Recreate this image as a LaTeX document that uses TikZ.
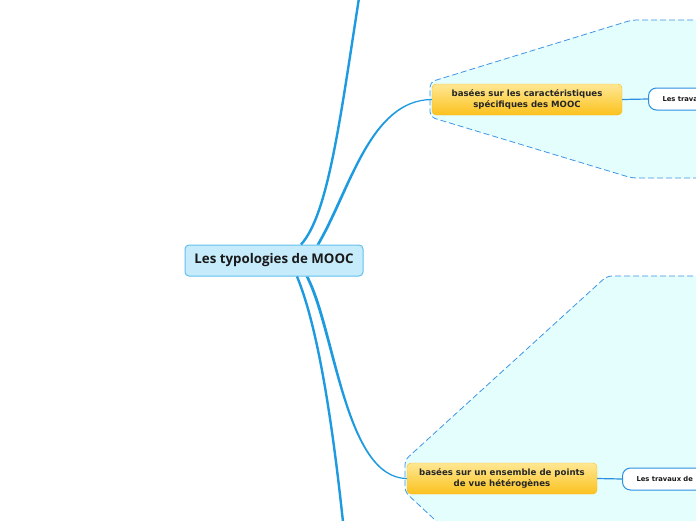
\documentclass[tikz,border=0pt]{standalone}
\usepackage{fontspec}
\setmainfont{DejaVu Sans}
\newfontfamily\centerfont{Open Sans}
\usetikzlibrary{calc}
\definecolor{branch}{HTML}{1E9BE0}
\definecolor{zonefill}{HTML}{E4FEFE}
\definecolor{zoneline}{HTML}{3F95E6}
\definecolor{centfill}{HTML}{C6ECFC}
\definecolor{centline}{HTML}{62C0EE}
\definecolor{orTop}{HTML}{FEE793}
\definecolor{orBot}{HTML}{FCC21E}
\definecolor{leafline}{HTML}{2A8FE0}
\tikzset{
  centbox/.style={draw=centline, fill=centfill, line width=1pt, rounded corners=4pt,
    minimum width=178pt, minimum height=31pt, inner sep=0pt,
    font=\centerfont\bfseries\fontsize{13.3}{15}\selectfont, text=black!90},
  orbox/.style={rounded corners=4pt, top color=orTop, bottom color=orBot, draw=orBot!90!orange,
    line width=0.4pt, minimum width=190pt, minimum height=31pt, inner sep=0pt, align=center,
    font=\bfseries\fontsize{8.6}{11}\selectfont, text=black!85},
  leafbox/.style={draw=leafline, fill=white, line width=1pt, rounded corners=8pt,
    minimum height=22pt, anchor=west, inner sep=0pt, text width=120pt,
    font=\bfseries\fontsize{6.8}{8}\selectfont, text=black!90},
  zone/.style={draw=zoneline, fill=zonefill, line width=0.8pt, dash pattern=on 6pt off 3pt, rounded corners=5pt},
  farbranch/.style={draw=branch, line width=2.4pt},
  leaflink/.style={draw=leafline, line width=1.2pt},
}
\begin{document}
\begin{tikzpicture}[x=1pt,y=-1pt]
\useasboundingbox (0,0) rectangle (696,520);
\clip (0,0) rectangle (696,520);
\fill[white] (0,0) rectangle (696,520);
% zones
\path[zone] (720,20) -- (632,20) -- (430,82) -- (430,117) -- (632,178) -- (720,178);
\path[zone] (720,276) -- (607,276) -- (405,460) -- (405,492) -- (607,680) -- (720,680);
% nodes
\node[centbox] (c) at (274,260.5) {Les typologies de MOOC};
\node[orbox] (o1) at (527,99.5) {basées sur les caractéristiques\\spécifiques des MOOC};
\node[orbox] (o2) at (502,478.5) {basées sur un ensemble de points\\de vue hétérogènes};
\node[leafbox] (w1) at (648,99) {\hspace*{14pt}Les travaux de};
\node[leafbox] (w2) at (622,479) {\hspace*{14pt}Les travaux de};
% far branches
\coordinate (topend) at (359,-2);
\coordinate (botend) at (343,522);
\draw[farbranch] ($(c.north)+(27,0)$) .. controls (328,215) and (340,120) .. (topend);
\draw[farbranch] ($(c.south)+(23,0)$) .. controls (315,320) and (330,400) .. (botend);
% near branches (tapered)
\fill[branch] ($(c.north)+(42.5,0)$) .. controls (348.5,190) and (369,99.4) .. ($(o1.west)+(0,-0.6)$)
  -- ($(o1.west)+(0,0.6)$) .. controls (371,100.6) and (351.5,190) .. ($(c.north)+(45.5,0)$) -- cycle;
\fill[branch] ($(c.south)+(31.5,0)$) .. controls (333.5,330) and (344,478.6) .. ($(o2.west)+(0,0.6)$)
  -- ($(o2.west)+(0,-0.6)$) .. controls (346,477.4) and (336.5,330) .. ($(c.south)+(34.5,0)$) -- cycle;
% leaf links
\draw[leaflink] (o1.east) -- (w1.west);
\draw[leaflink] (o2.east) -- (w2.west);
\end{tikzpicture}
\end{document}
